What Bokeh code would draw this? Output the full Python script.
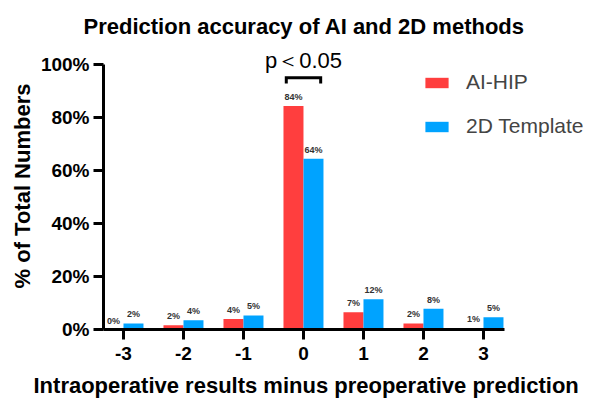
from bokeh.plotting import figure
from bokeh.models import (ColumnDataSource, FixedTicker, LabelSet, Label, Legend,
                          LegendItem, Range1d, Title)
from bokeh.transform import dodge
from bokeh.core.properties import value
from bokeh.embed import file_html
from bokeh.resources import INLINE

# ---- data ----
categories = [-3, -2, -1, 0, 1, 2, 3]
x_tick_labels = ["-3", "-2", "-1", "0", "1", "2", "3"]
ai_hip = [0.0, 1.6, 4.0, 84.3, 6.5, 2.3, 0.6]
template_2d = [2.3, 3.5, 5.3, 64.4, 11.4, 7.8, 4.6]
ai_hip_labels = ["0%", "2%", "4%", "84%", "7%", "2%", "1%"]
template_2d_labels = ["2%", "4%", "5%", "64%", "12%", "8%", "5%"]
y_ticks = [0, 20, 40, 60, 80, 100]
y_tick_labels = ["0%", "20%", "40%", "60%", "80%", "100%"]
series_names = ["AI-HIP", "2D Template"]
p_text = "p\uff1c0.05"
p_pair_category = 0
title_text = "Prediction accuracy of AI and 2D methods"
x_label_text = "Intraoperative results minus preoperative prediction"
y_label_text = "% of Total Numbers"

RED = "#FF3E3E"
BLUE = "#00A3FF"
FONT = "Liberation Sans"

x_axis_bounds = (-3.333, 3.35)
y_axis_bounds = (0, 100)

src = ColumnDataSource(dict(x=categories, ai=ai_hip, t2d=template_2d,
                            ai_lab=ai_hip_labels, t2d_lab=template_2d_labels))

p = figure(width=589, height=406, x_range=Range1d(-3.333, 4.767), y_range=Range1d(0, 108.3),
           output_backend="svg", toolbar_location=None,
           min_border_left=103, min_border_right=0, min_border_top=42, min_border_bottom=77)
p.outline_line_color = None
p.grid.visible = False
p.background_fill_color = "white"
p.border_fill_color = "white"

p.add_layout(Title(text=title_text, align="left", offset=-20, standoff=7,
                   text_font=FONT, text_font_size="22px", text_font_style="bold",
                   text_color="black"), "above")
p.add_layout(Title(text=x_label_text, align="left", offset=-70, standoff=16,
                   text_font=FONT, text_font_size="22px", text_font_style="bold",
                   text_color="black"), "below")

bw = 1 / 3
r1 = p.vbar(x=dodge("x", -1 / 6, range=p.x_range), top="ai", width=bw, source=src,
            fill_color=RED, line_color=None)
r2 = p.vbar(x=dodge("x", 1 / 6, range=p.x_range), top="t2d", width=bw, source=src,
            fill_color=BLUE, line_color=None)

for col, lab, off in (("ai", "ai_lab", -1 / 6), ("t2d", "t2d_lab", 1 / 6)):
    p.add_layout(LabelSet(x=dodge("x", off, range=p.x_range), y=col, text=lab, source=src,
                          text_align="center", text_baseline="bottom", y_offset=4,
                          text_font=value(FONT), text_font_size=value("9px"),
                          text_font_style="bold", text_color="#333333"))

# axes
for ax in (p.xaxis[0], p.yaxis[0]):
    ax.axis_line_width = 3
    ax.axis_line_color = "black"
    ax.major_tick_line_width = 3
    ax.major_tick_line_color = "black"
    ax.major_tick_out = 10
    ax.major_tick_in = 0
    ax.minor_tick_line_color = None
    ax.major_label_text_font = FONT
    ax.major_label_text_font_size = "19px"
    ax.major_label_text_font_style = "bold"
    ax.major_label_text_color = "black"
    ax.axis_label_text_font = FONT
    ax.axis_label_text_font_size = "22px"
    ax.axis_label_text_font_style = "bold"
    ax.axis_label_text_color = "black"

p.xaxis.bounds = x_axis_bounds
p.xaxis.ticker = FixedTicker(ticks=categories)
p.xaxis.major_label_overrides = {c: l for c, l in zip(categories, x_tick_labels)}
p.xaxis.major_label_standoff = 7

p.yaxis.bounds = y_axis_bounds
p.yaxis.ticker = FixedTicker(ticks=y_ticks)
p.yaxis.major_label_overrides = {t: l for t, l in zip(y_ticks, y_tick_labels)}
p.yaxis.major_label_standoff = 4
p.yaxis.axis_label = y_label_text
p.yaxis.axis_label_standoff = 3

# significance bracket over category 0
i0 = categories.index(p_pair_category)
top_val = max(ai_hip[i0], template_2d[i0])
bx0 = p_pair_category - 1 / 6 - 0.12
bx1 = p_pair_category + 1 / 6 + 0.12
by_top = top_val + 10.7
by_bot = top_val + 8.5
p.line(x=[bx0, bx0, bx1, bx1], y=[by_bot, by_top, by_top, by_bot], line_color="black",
       line_width=3, line_join="miter")
p.add_layout(Label(x=p_pair_category, y=top_val + 17.2, text=p_text, text_align="center",
                   text_baseline="middle", text_font=FONT,
                   text_font_size="22px", text_color="black"))

legend = Legend(items=[LegendItem(label=series_names[0], renderers=[r1]),
                       LegendItem(label=series_names[1], renderers=[r2])],
                location=(319, 191), orientation="vertical",
                glyph_width=29, glyph_height=13, label_standoff=15,
                label_text_font=FONT, label_text_font_size="21px",
                label_height=13, spacing=20, padding=0, margin=0,
                border_line_color=None, background_fill_alpha=0)
p.add_layout(legend, "center")

open("out.html", "w").write(file_html(p, INLINE))
